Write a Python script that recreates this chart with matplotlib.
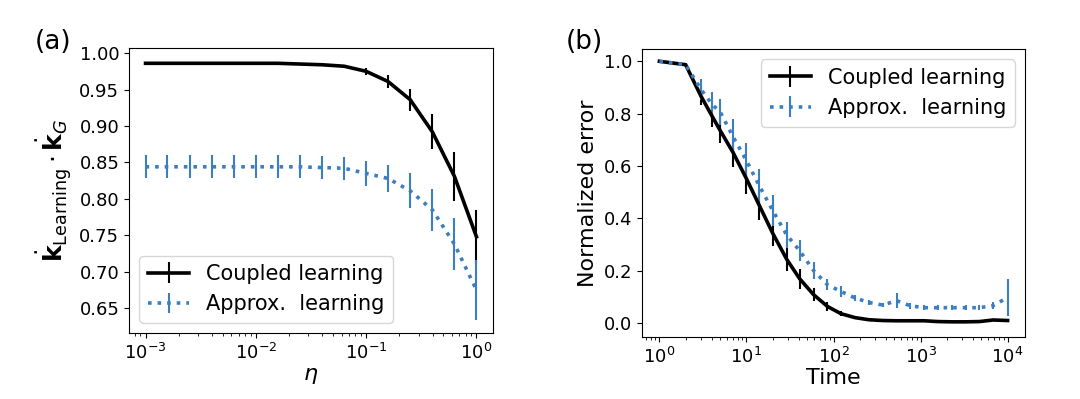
import matplotlib
matplotlib.use('Agg')
import matplotlib.pyplot as plt

# ---------------- Panel (a) data ----------------
eta = [0.001, 0.00158, 0.00251, 0.00398, 0.00631, 0.01, 0.0158, 0.0251,
       0.0398, 0.0631, 0.1, 0.158, 0.251, 0.398, 0.631, 1.0]
coupled_a = [0.986, 0.986, 0.986, 0.986, 0.986, 0.986, 0.986, 0.985,
             0.984, 0.982, 0.975, 0.961, 0.936, 0.892, 0.831, 0.748]
coupled_a_err = [0.001, 0.001, 0.001, 0.001, 0.001, 0.001, 0.001, 0.001,
                 0.001, 0.002, 0.0045, 0.0085, 0.015, 0.024, 0.034, 0.037]
approx_a = [0.844, 0.844, 0.844, 0.844, 0.844, 0.844, 0.844, 0.844,
            0.843, 0.842, 0.835, 0.828, 0.811, 0.785, 0.738, 0.675]
approx_a_err = [0.016, 0.016, 0.016, 0.016, 0.016, 0.016, 0.016, 0.016,
                0.016, 0.016, 0.017, 0.019, 0.024, 0.029, 0.036, 0.041]

# ---------------- Panel (b) data ----------------
time = [1, 2, 3, 4, 5, 7, 10, 14, 20, 29, 41, 59, 85, 122, 177, 255, 368,
        530, 764, 1100, 1586, 2286, 3295, 4750, 6845, 10000]
coupled_b = [1.0, 0.987, 0.867, 0.792, 0.735, 0.652, 0.551, 0.45, 0.343,
             0.243, 0.168, 0.108, 0.063, 0.035, 0.02, 0.012, 0.009, 0.008,
             0.008, 0.008, 0.005, 0.004, 0.004, 0.005, 0.011, 0.009]
coupled_b_err = [0.0, 0.003, 0.035, 0.042, 0.047, 0.055, 0.058, 0.055, 0.05,
                 0.045, 0.038, 0.025, 0.016, 0.01, 0.007, 0.005, 0.005, 0.005,
                 0.004, 0.004, 0.004, 0.004, 0.004, 0.004, 0.004, 0.004]
approx_b = [1.0, 0.987, 0.893, 0.836, 0.806, 0.712, 0.62, 0.525, 0.43,
            0.336, 0.275, 0.2, 0.146, 0.12, 0.095, 0.078, 0.068, 0.085,
            0.065, 0.058, 0.058, 0.058, 0.058, 0.058, 0.066, 0.097]
approx_b_err = [0.0, 0.005, 0.04, 0.048, 0.05, 0.068, 0.067, 0.064, 0.058,
                0.048, 0.04, 0.032, 0.022, 0.02, 0.013, 0.01, 0.009, 0.028,
                0.012, 0.01, 0.01, 0.01, 0.01, 0.01, 0.012, 0.07]

series_labels = ['Coupled learning', 'Approx.  learning']

BLUE = '#3b7fc0'
TICK_FS = 13
LABEL_FS = 16
LEG_FS = 15

fig = plt.figure(figsize=(10.8, 3.99), dpi=100)
ax1 = fig.add_axes([129 / 1080, 1 - 333 / 399, (493 - 129) / 1080, (333 - 48) / 399])
ax2 = fig.add_axes([642 / 1080, 1 - 337 / 399, (1025 - 642) / 1080, (337 - 49) / 399])

# Panel (a)
ax1.errorbar(eta, coupled_a, yerr=coupled_a_err, color='black', lw=2.6,
             elinewidth=1.5, label=series_labels[0])
ax1.errorbar(eta, approx_a, yerr=approx_a_err, color=BLUE, ls=':', lw=2.6,
             elinewidth=1.5, label=series_labels[1])
ax1.set_xscale('log')
ax1.set_xlim(10 ** -3.15, 10 ** 0.15)
ax1.set_ylim(0.616, 1.007)
ax1.set_yticks([0.65, 0.70, 0.75, 0.80, 0.85, 0.90, 0.95, 1.00])
ax1.set_yticklabels(['0.65', '0.70', '0.75', '0.80', '0.85', '0.90', '0.95', '1.00'])
ax1.set_xlabel(r'$\eta$', fontsize=LABEL_FS, labelpad=2)
ax1.set_ylabel(r'$\dot{\mathbf{k}}_{\mathrm{Learning}}\cdot\dot{\mathbf{k}}_G$',
               fontsize=LABEL_FS + 2, labelpad=4)
ax1.tick_params(labelsize=TICK_FS)
ax1.legend(loc='lower left', fontsize=LEG_FS)

# Panel (b)
ax2.errorbar(time, coupled_b, yerr=coupled_b_err, color='black', lw=2.6,
             elinewidth=1.5, label=series_labels[0])
ax2.errorbar(time, approx_b, yerr=approx_b_err, color=BLUE, ls=':', lw=2.6,
             elinewidth=1.5, label=series_labels[1])
ax2.set_xscale('log')
ax2.set_xlim(10 ** -0.2, 10 ** 4.2)
ax2.set_ylim(-0.054, 1.047)
ax2.set_yticks([0.0, 0.2, 0.4, 0.6, 0.8, 1.0])
ax2.set_xlabel('Time', fontsize=LABEL_FS, labelpad=1)
ax2.set_ylabel('Normalized error', fontsize=LABEL_FS, labelpad=4)
ax2.tick_params(labelsize=TICK_FS)
ax2.legend(loc='upper right', fontsize=LEG_FS)

fig.text(35 / 1080, 1 - 42 / 399, '(a)', fontsize=19, va='center', ha='left')
fig.text(566 / 1080, 1 - 42 / 399, '(b)', fontsize=19, va='center', ha='left')

fig.savefig('out.png', dpi=100)
